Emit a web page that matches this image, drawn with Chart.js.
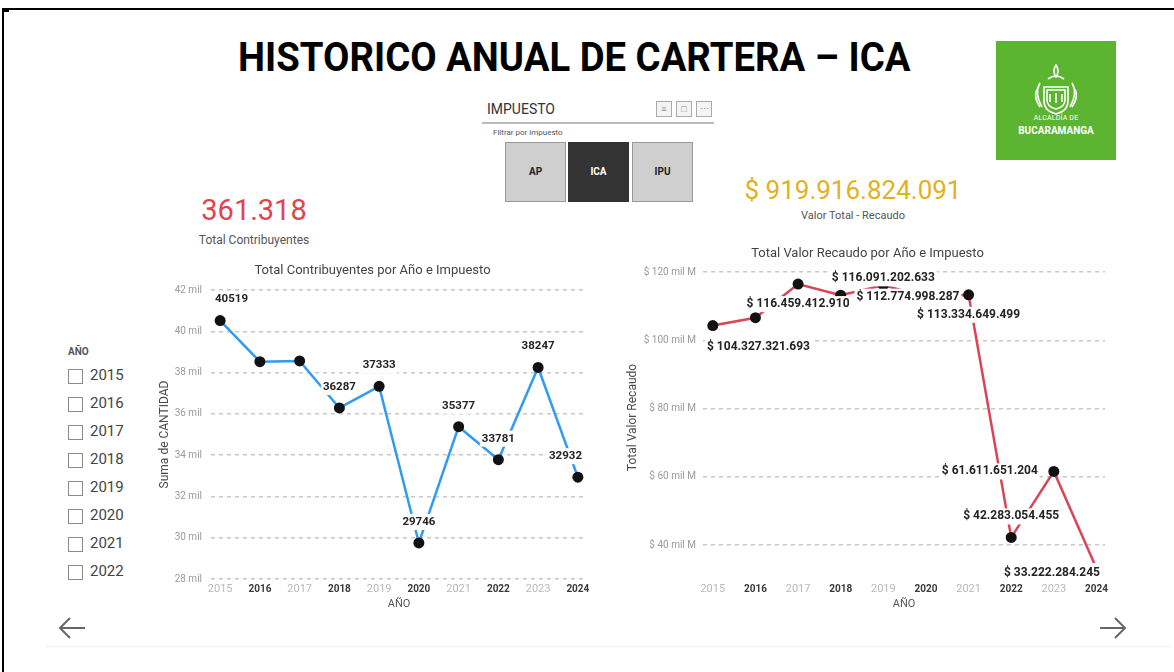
<!DOCTYPE html>
<html>
<head>
<meta charset="utf-8">
<script src="https://cdn.jsdelivr.net/npm/chart.js@4.4.1/dist/chart.umd.min.js"></script>
<style>
body { margin: 0; width: 1174px; height: 672px; position: relative; overflow: hidden; background: #fff; font-family: Roboto, sans-serif; }
.abs { position: absolute; }
#marcoTop { left: 2px; top: 8px; width: 1172px; height: 2px; background: #000; }
#marcoIzq { left: 2px; top: 8px; width: 2px; height: 664px; background: #000; }
#titulo { left: 0; top: 34px; width: 1148px; text-align: center; font-weight: bold; font-size: 40px; color: #000; white-space: nowrap; }
#titulo span { display: inline-block; transform-origin: center; }
#logo { left: 996px; top: 41px; width: 120px; height: 119px; background: #5cb531; color: #fff; text-align: center; }
#slicer { left: 482px; top: 98px; width: 232px; }
.boton { position: absolute; top: 44px; width: 61px; height: 60px; border: 1px solid #999; box-sizing: border-box; font-size: 10px; font-weight: bold; text-align: center; line-height: 58px; }
.icono { position: absolute; top: 3px; width: 16px; height: 16px; border: 1px solid #aaa; box-sizing: border-box; background: #f4f4f4; color: #888; font-size: 9px; line-height: 14px; text-align: center; }
.kpi { text-align: center; }
.check { position: absolute; left: 68px; width: 15px; height: 15px; border: 1px solid #8a8a8a; box-sizing: border-box; }
.anio { position: absolute; left: 90px; font-size: 15px; color: #444; }
canvas { position: absolute; }
</style>
</head>
<body>
<div id="marcoTop" class="abs"></div>
<div id="marcoIzq" class="abs"></div>
<div class="abs" style="left:4px;top:10px;width:5px;height:2px;background:#000"></div>

<div id="titulo" class="abs"><span id="tituloTxt">HISTORICO ANUAL DE CARTERA – ICA</span></div>

<div id="logo" class="abs">
  <svg width="120" height="70" style="position:absolute;left:0;top:8px">
    <g fill="none" stroke="#fff" stroke-width="1.6">
      <path d="M48 38 h24 v14 q0 10 -12 13 q-12 -3 -12 -13 z"/>
      <path d="M51 41 h18 v10 q0 7 -9 9 q-9 -2 -9 -9 z"/>
      <path d="M60 16 q-4 6 0 12 q4 -6 0 -12 z"/>
      <path d="M52 30 q8 -6 16 0"/>
      <path d="M44 34 q-6 10 2 24 M76 34 q6 10 -2 24"/>
      <path d="M41 40 q-4 8 3 18 M79 40 q4 8 -3 18"/>
      <path d="M54 45 v8 M60 44 v10 M66 45 v8"/>
    </g>
  </svg>
  <div style="position:absolute;left:0;top:73px;width:120px;font-size:7px;letter-spacing:0.2px">ALCALDÍA DE</div>
  <div style="position:absolute;left:0;top:84px;width:120px;font-size:10px;font-weight:bold">BUCARAMANGA</div>
</div>

<div id="slicer" class="abs">
  <div style="position:absolute;left:5px;top:3px;font-size:14px;color:#333">IMPUESTO</div>
  <div class="icono" style="left:174px">&#8801;</div>
  <div class="icono" style="left:194px">&#9633;</div>
  <div class="icono" style="left:214px">&#8943;</div>
  <div style="position:absolute;left:0;top:24px;width:232px;height:2px;background:#bbb"></div>
  <div style="position:absolute;left:11px;top:30px;font-size:8px;color:#555">Filtrar por impuesto</div>
  <div class="boton" style="left:23px;background:#cfcfcf;color:#222">AP</div>
  <div class="boton" style="left:86px;background:#333;color:#fff;border-color:#333">ICA</div>
  <div class="boton" style="left:150px;background:#cfcfcf;color:#222">IPU</div>
</div>

<div class="abs kpi" style="left:154px;top:193px;width:200px;font-size:29px;color:#e0444e">361.318</div>
<div class="abs kpi" style="left:154px;top:233px;width:200px;font-size:12px;color:#555">Total Contribuyentes</div>
<div class="abs kpi" style="left:703px;top:175px;width:300px;font-size:26px;color:#e2b11d">$ 919.916.824.091</div>
<div class="abs kpi" style="left:703px;top:209px;width:300px;font-size:11px;color:#555">Valor Total - Recaudo</div>

<div class="abs" style="left:68px;top:346px;font-size:10px;font-weight:bold;color:#555">AÑO</div>
<div id="listaAnios"></div>

<canvas id="graficoContrib" width="445" height="355" style="left:150px;top:260px"></canvas>
<canvas id="graficoRecaudo" width="495" height="373" style="left:620px;top:242px"></canvas>
<div class="abs" style="left:150px;top:262px;width:445px;text-align:center;font-size:13px;color:#444">Total Contribuyentes por Año e Impuesto</div>
<div class="abs" style="left:620px;top:245px;width:495px;text-align:center;font-size:13px;color:#444">Total Valor Recaudo por Año e Impuesto</div>

<svg class="abs" style="left:55px;top:615px" width="40" height="28"><g fill="none" stroke="#666" stroke-width="2"><path d="M5 13 H30 M15 3 L5 13 L15 23"/></g></svg>
<svg class="abs" style="left:1095px;top:615px" width="40" height="28"><g fill="none" stroke="#666" stroke-width="2"><path d="M5 13 H30 M20 3 L30 13 L20 23"/></g></svg>
<div class="abs" style="left:45px;top:646px;width:1125px;height:1px;background:#eee"></div>

<script>
// datos
var anios = [2015, 2016, 2017, 2018, 2019, 2020, 2021, 2022, 2023, 2024];
var contribuyentes = [40519, 38530, 38566, 36287, 37333, 29746, 35377, 33781, 38247, 32932];
var recaudo = [104327321693, 106613000000, 116459412910, 113200000000, 116091202633, 112774998287, 113334649499, 42283054455, 61611651204, 33222284245];
var ticksContrib = [28000, 30000, 32000, 34000, 36000, 38000, 40000, 42000];
var ticksRecaudo = [40e9, 60e9, 80e9, 100e9, 120e9];
var aniosFiltro = [2015, 2016, 2017, 2018, 2019, 2020, 2021, 2022];

// donde va cada etiqueta respecto al punto (null = sin etiqueta)
var posContrib = [[11, -21], null, null, [0, -21], [0, -21], [0, -21], [0, -21], [0, -21], [0, -21], [-12, -21]];
var posRecaudo = [[0, 21], null, [0, 20], null, [0, -7], [-18, 0], [0, 20], [0, -21], [-64, 0], [0, 5]];

var lista = document.getElementById('listaAnios');
aniosFiltro.forEach(function (a, i) {
    var y = 369 + i * 28;
    lista.insertAdjacentHTML('beforeend', '<div class="check" style="top:' + y + 'px"></div><div class="anio" style="top:' + (y - 3) + 'px">' + a + '</div>');
});

var t = document.getElementById('tituloTxt');
t.style.transform = 'scaleX(' + (672 / t.offsetWidth) + ')';

function puntos(v) {
    return String(v).replace(/\B(?=(\d{3})+(?!\d))/g, '.');
}

var etiquetas = {
    id: 'etiquetas',
    afterDatasetsDraw: function (chart, args, opts) {
        var ctx = chart.ctx, area = chart.chartArea;
        var meta = chart.getDatasetMeta(0);
        ctx.save();
        ctx.font = 'bold ' + opts.size + 'px Roboto';
        ctx.textAlign = 'center';
        ctx.textBaseline = 'middle';
        meta.data.forEach(function (pt, i) {
            var p = opts.pos[i];
            if (!p) return;
            var txt = opts.fmt(chart.data.datasets[0].data[i].y);
            var w = ctx.measureText(txt).width;
            var x = pt.x + p[0], y = pt.y + p[1];
            x = Math.max(area.left + 4 + w / 2, Math.min(area.right - 5 - w / 2, x));
            ctx.fillStyle = '#fff';
            ctx.fillRect(x - w / 2 - 2, y - 8, w + 4, 16);
            ctx.fillStyle = '#252423';
            ctx.fillText(txt, x, y);
        });
        ctx.restore();
    }
};

function ejeX(min, max, pad) {
    return {
        type: 'linear', min: min, max: max,
        afterBuildTicks: function (s) { s.ticks = anios.map(function (v) { return { value: v }; }); },
        afterFit: function (s) { s.height = pad.alto; s.paddingLeft = 0; s.paddingRight = 0; },
        grid: { display: false, drawTicks: false },
        border: { display: false },
        ticks: {
            autoSkip: false, maxRotation: 0, padding: pad.ticks,
            callback: function (v) { return String(v); },
            color: function (c) { return c.index % 2 ? '#3b3a39' : '#b8b8b8'; },
            font: function (c) { return c.index % 2 ? { family: 'Roboto', size: 10, weight: 'bold' } : { family: 'Roboto', size: 11 }; }
        },
        title: { display: true, text: 'AÑO', color: '#555', font: { family: 'Roboto', size: 11 } }
    };
}

function ejeY(min, max, valores, ancho, relleno, fmt, titulo) {
    return {
        min: min, max: max,
        afterBuildTicks: function (s) { s.ticks = valores.map(function (v) { return { value: v }; }); },
        afterFit: function (s) { s.width = ancho; },
        grid: { color: '#c8c8c8', lineWidth: 1.5, drawTicks: false },
        border: { display: false, dash: [4, 4] },
        ticks: { padding: relleno, color: '#9a9a9a', font: { family: 'Roboto', size: 10 }, callback: fmt },
        title: { display: true, text: titulo, color: '#4a4a4a', font: { family: 'Roboto', size: 12 } }
    };
}

new Chart(document.getElementById('graficoContrib'), {
    type: 'line',
    data: {
        datasets: [{
            data: anios.map(function (a, i) { return { x: a, y: contribuyentes[i] }; }),
            borderColor: '#2f9bf2', borderWidth: 2.5, tension: 0, clip: 0,
            pointRadius: 5.5, pointBackgroundColor: '#111', pointBorderWidth: 0
        }]
    },
    options: {
        responsive: false, animation: false,
        layout: { padding: { left: 4, top: 30, right: 8, bottom: 0 } },
        plugins: {
            legend: { display: false }, tooltip: { enabled: false },
            etiquetas: { pos: posContrib, size: 11.5, fmt: function (v) { return String(v); } }
        },
        scales: {
            x: ejeX(2014.77, 2024.23, { alto: 36, ticks: 4 }),
            y: ejeY(28000, 42000, ticksContrib, 57, 9, function (v) { return (v / 1000) + ' mil'; }, 'Suma de CANTIDAD')
        }
    },
    plugins: [etiquetas]
});

new Chart(document.getElementById('graficoRecaudo'), {
    type: 'line',
    data: {
        datasets: [{
            data: anios.map(function (a, i) { return { x: a, y: recaudo[i] }; }),
            borderColor: '#dc4456', borderWidth: 2.5, tension: 0, clip: 0,
            pointRadius: 5.5, pointBackgroundColor: '#111', pointBorderWidth: 0
        }]
    },
    options: {
        responsive: false, animation: false,
        layout: { padding: { left: 2, top: 30, right: 10, bottom: 0 } },
        plugins: {
            legend: { display: false }, tooltip: { enabled: false },
            etiquetas: { pos: posRecaudo, size: 12, fmt: function (v) { return '$ ' + puntos(v); } }
        },
        scales: {
            x: ejeX(2014.77, 2024.2, { alto: 52, ticks: 20 }),
            y: ejeY(34.8e9, 120e9, ticksRecaudo, 81, 7, function (v) { return '$ ' + (v / 1e9) + ' mil M'; }, 'Total Valor Recaudo')
        }
    },
    plugins: [etiquetas]
});
</script>
</body>
</html>
